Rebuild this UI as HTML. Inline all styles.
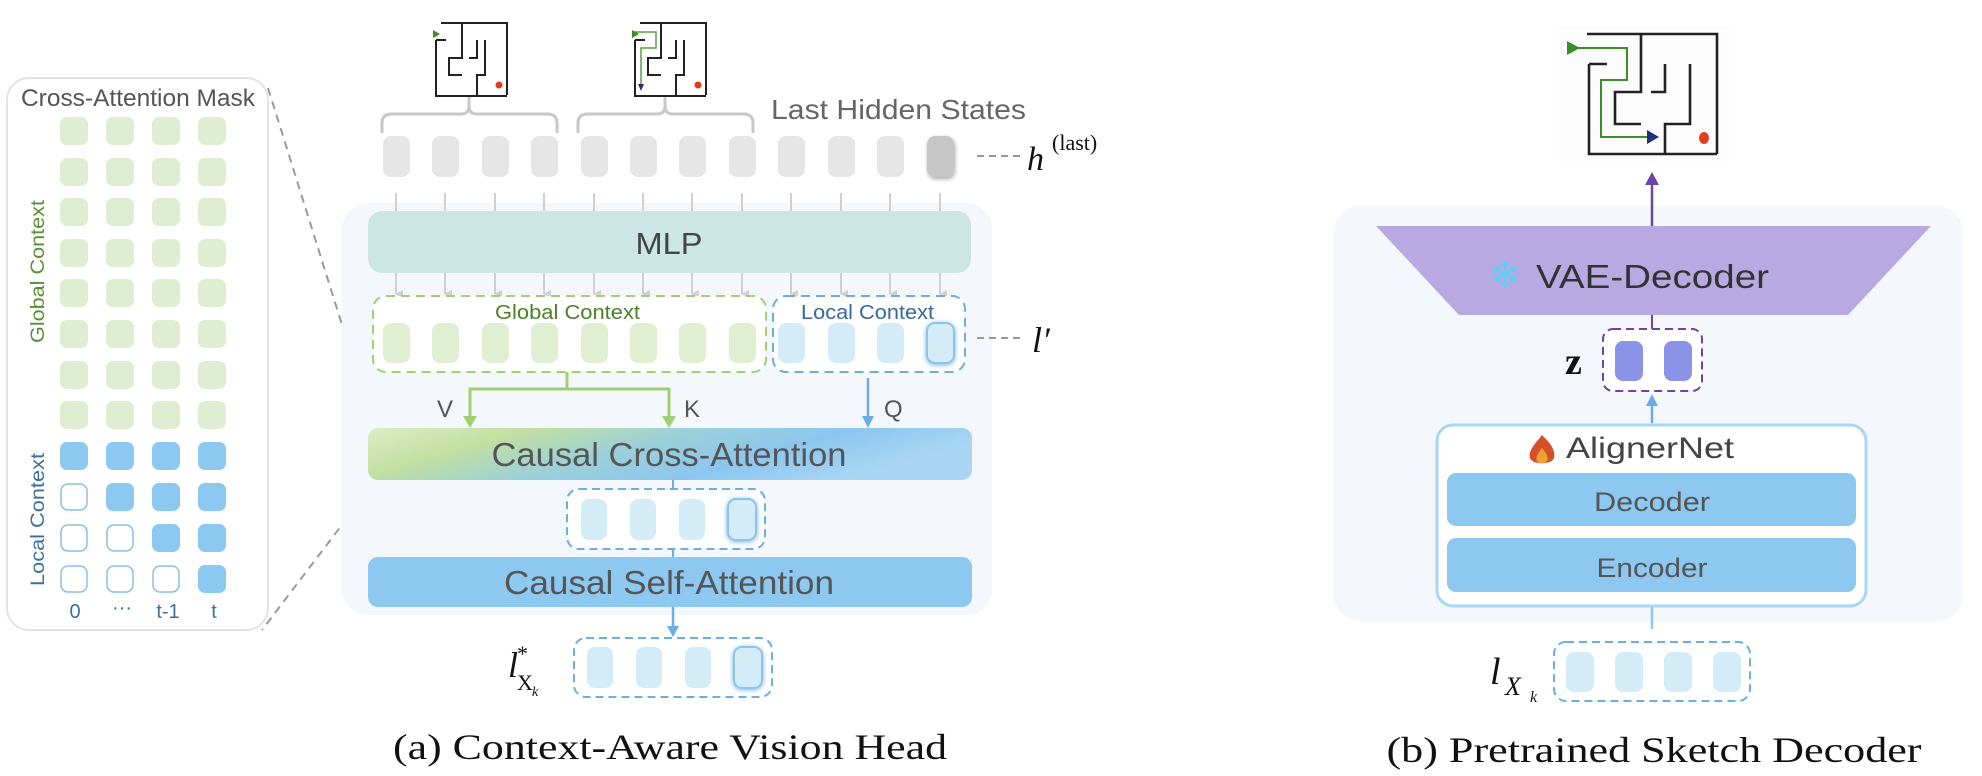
<!DOCTYPE html>
<html><head><meta charset="utf-8"><style>
html,body{margin:0;padding:0;background:#fff;}
svg{display:block;}
</style></head><body>
<svg width="1982" height="776" viewBox="0 0 1982 776" xmlns="http://www.w3.org/2000/svg">
<defs>
<linearGradient id="cg" x1="0" y1="0" x2="1" y2="0.3">
<stop offset="0" stop-color="#dcedc6"/><stop offset="0.25" stop-color="#c2e0a0"/><stop offset="0.5" stop-color="#9bd0d8"/><stop offset="0.75" stop-color="#8cc6ef"/><stop offset="1" stop-color="#a9d6f5"/>
</linearGradient>
<marker id="ag" markerWidth="8" markerHeight="8" refX="4" refY="7" orient="auto" markerUnits="userSpaceOnUse"><path d="M0,0 L8,0 L4,8 z" fill="#d0d0d0"/></marker>
<filter id="sh" x="-50%" y="-50%" width="200%" height="200%"><feDropShadow dx="1" dy="2" stdDeviation="2" flood-color="#000" flood-opacity="0.35"/></filter>
<filter id="glow" x="-50%" y="-50%" width="200%" height="200%"><feDropShadow dx="0" dy="1" stdDeviation="2.5" flood-color="#3f8fd0" flood-opacity="0.7"/></filter>
</defs>

<rect x="7" y="78" width="261" height="552" rx="22" fill="#fff" stroke="#e4e4e4" stroke-width="2"/>
<text x="21" y="106" font-family="Liberation Sans, sans-serif" font-size="24" fill="#555" textLength="234" lengthAdjust="spacingAndGlyphs">Cross-Attention Mask</text>
<g>
<g fill="#dfeed2">
<rect x="60" y="117" width="28" height="28" rx="7"/><rect x="106" y="117" width="28" height="28" rx="7"/><rect x="152" y="117" width="28" height="28" rx="7"/><rect x="198" y="117" width="28" height="28" rx="7"/>
<rect x="60" y="158" width="28" height="28" rx="7"/><rect x="106" y="158" width="28" height="28" rx="7"/><rect x="152" y="158" width="28" height="28" rx="7"/><rect x="198" y="158" width="28" height="28" rx="7"/>
<rect x="60" y="198" width="28" height="28" rx="7"/><rect x="106" y="198" width="28" height="28" rx="7"/><rect x="152" y="198" width="28" height="28" rx="7"/><rect x="198" y="198" width="28" height="28" rx="7"/>
<rect x="60" y="239" width="28" height="28" rx="7"/><rect x="106" y="239" width="28" height="28" rx="7"/><rect x="152" y="239" width="28" height="28" rx="7"/><rect x="198" y="239" width="28" height="28" rx="7"/>
<rect x="60" y="279" width="28" height="28" rx="7"/><rect x="106" y="279" width="28" height="28" rx="7"/><rect x="152" y="279" width="28" height="28" rx="7"/><rect x="198" y="279" width="28" height="28" rx="7"/>
<rect x="60" y="320" width="28" height="28" rx="7"/><rect x="106" y="320" width="28" height="28" rx="7"/><rect x="152" y="320" width="28" height="28" rx="7"/><rect x="198" y="320" width="28" height="28" rx="7"/>
<rect x="60" y="361" width="28" height="28" rx="7"/><rect x="106" y="361" width="28" height="28" rx="7"/><rect x="152" y="361" width="28" height="28" rx="7"/><rect x="198" y="361" width="28" height="28" rx="7"/>
<rect x="60" y="401" width="28" height="28" rx="7"/><rect x="106" y="401" width="28" height="28" rx="7"/><rect x="152" y="401" width="28" height="28" rx="7"/><rect x="198" y="401" width="28" height="28" rx="7"/>
</g>
<g fill="#8cc8f0">
<rect x="60" y="442" width="28" height="28" rx="7"/><rect x="106" y="442" width="28" height="28" rx="7"/><rect x="152" y="442" width="28" height="28" rx="7"/><rect x="198" y="442" width="28" height="28" rx="7"/>
<rect x="106" y="483" width="28" height="28" rx="7"/><rect x="152" y="483" width="28" height="28" rx="7"/><rect x="198" y="483" width="28" height="28" rx="7"/>
<rect x="152" y="524" width="28" height="28" rx="7"/><rect x="198" y="524" width="28" height="28" rx="7"/>
<rect x="198" y="565" width="28" height="28" rx="7"/>
</g>
<g fill="#fff" stroke="#8cbfe3" stroke-width="1.5">
<rect x="61" y="484" width="26" height="26" rx="7"/>
<rect x="61" y="525" width="26" height="26" rx="7"/><rect x="107" y="525" width="26" height="26" rx="7"/>
<rect x="61" y="566" width="26" height="26" rx="7"/><rect x="107" y="566" width="26" height="26" rx="7"/><rect x="153" y="566" width="26" height="26" rx="7"/>
</g>
</g>
<text transform="translate(44,343) rotate(-90)" font-family="Liberation Sans, sans-serif" font-size="19" fill="#5a8f32" textLength="143" lengthAdjust="spacingAndGlyphs">Global Context</text>
<text transform="translate(44,586) rotate(-90)" font-family="Liberation Sans, sans-serif" font-size="19" fill="#3d6f9c" textLength="133" lengthAdjust="spacingAndGlyphs">Local Context</text>
<g font-family="Liberation Sans, sans-serif" font-size="20" fill="#3d6f9c" text-anchor="middle">
<text x="75" y="618">0</text><text x="122" y="614">···</text><text x="168" y="618">t-1</text><text x="214" y="618">t</text>
</g>

<line x1="268" y1="88" x2="373" y2="424" stroke="#9a9a9a" stroke-width="2" stroke-dasharray="8,6"/>
<line x1="373" y1="484" x2="262" y2="630" stroke="#9a9a9a" stroke-width="2" stroke-dasharray="8,6"/>

<rect x="342" y="203" width="650" height="412" rx="26" fill="#f4f8fd"/>

<g stroke="#222" stroke-width="2" fill="none">
<g transform="translate(433,23)">
<path d="M8,0 H74 V72"/><path d="M3,17 V73 H74"/><path d="M3,17 H13"/><path d="M29,0 V35 H16 V52 H29"/><path d="M52,17 V52 H44 V73"/><path d="M44,17 V35 H36"/><path d="M20,35 H29"/>
<path d="M0,7 L7,11 L0,15 z" fill="#3c8c2a" stroke="none"/>
<circle cx="66" cy="62" r="3.5" fill="#e03a1e" stroke="none"/>
</g>
<g transform="translate(632,23)">
<path d="M8,0 H74 V72"/><path d="M3,17 V73 H74"/><path d="M3,17 H13"/><path d="M29,0 V35 H16 V52 H29"/><path d="M52,17 V52 H44 V73"/><path d="M44,17 V35 H36"/><path d="M20,35 H29"/>
<path d="M2,9 H24 V25 H9 V62" stroke="#5aa04a" stroke-width="1.5"/>
<path d="M0,7 L7,11 L0,15 z" fill="#3c8c2a" stroke="none"/>
<path d="M6,61 L12,61 L9,68 z" fill="#1f2f7a" stroke="none"/>
<circle cx="66" cy="62" r="3.5" fill="#e03a1e" stroke="none"/>
</g>
<g transform="translate(1567,32)" stroke-width="2.6">
<rect x="-8" y="-6" width="170" height="135" fill="#fcfcfc" stroke="none"/>
<path d="M20,2 H150 V122"/><path d="M22,32 H40 M22,32 V122 H150"/><path d="M74,2 V60 H48 V92 H74"/><path d="M123,32 V92 H98 V122"/><path d="M98,32 V60 H84"/>
<path d="M4,16 H60 V48 H34 V105 H80" stroke="#3c8c2a" stroke-width="2"/>
<path d="M0,9 L13,16 L0,23 z" fill="#3c8c2a" stroke="none"/>
<path d="M80,98 L92,105 L80,112 z" fill="#1f2f7a" stroke="none"/>
<ellipse cx="137" cy="106" rx="5" ry="6" fill="#e0401e" stroke="none"/>
</g>
</g>

<g stroke="#c8c8c8" stroke-width="3" fill="none">
<path d="M382,133 V123 Q382,114 392,114 H461 Q469,114 469,106 V97 M469,97 V106 Q469,114 477,114 H547 Q557,114 557,123 V133"/>
<path d="M578,133 V123 Q578,114 588,114 H657 Q665,114 665,106 V97 M665,97 V106 Q665,114 673,114 H743 Q753,114 753,123 V133"/>
</g>
<text x="771" y="119" font-family="Liberation Sans, sans-serif" font-size="28" fill="#666" textLength="255" lengthAdjust="spacingAndGlyphs">Last Hidden States</text>

<g fill="#e6e6e6">
<rect x="383" y="136" width="27" height="41" rx="8"/><rect x="432" y="136" width="27" height="41" rx="8"/><rect x="482" y="136" width="27" height="41" rx="8"/><rect x="531" y="136" width="27" height="41" rx="8"/>
<rect x="581" y="136" width="27" height="41" rx="8"/><rect x="630" y="136" width="27" height="41" rx="8"/><rect x="679" y="136" width="27" height="41" rx="8"/><rect x="729" y="136" width="27" height="41" rx="8"/>
<rect x="778" y="136" width="27" height="41" rx="8"/><rect x="828" y="136" width="27" height="41" rx="8"/><rect x="877" y="136" width="27" height="41" rx="8"/>
</g>
<rect x="927" y="136" width="27" height="41" rx="8" fill="#c6c6c6" filter="url(#sh)"/>
<line x1="977" y1="156" x2="1022" y2="156" stroke="#999" stroke-width="2" stroke-dasharray="7,5"/>
<text x="1027" y="170" font-family="Liberation Serif, serif" font-style="italic" font-size="34" fill="#111">h</text>
<text x="1052" y="150" font-family="Liberation Serif, serif" font-size="22" fill="#111">(last)</text>

<g stroke="#d0d0d0" stroke-width="2">
<line x1="396" y1="193" x2="396" y2="211"/><line x1="445" y1="193" x2="445" y2="211"/><line x1="495" y1="193" x2="495" y2="211"/><line x1="544" y1="193" x2="544" y2="211"/>
<line x1="594" y1="193" x2="594" y2="211"/><line x1="643" y1="193" x2="643" y2="211"/><line x1="692" y1="193" x2="692" y2="211"/><line x1="742" y1="193" x2="742" y2="211"/>
<line x1="791" y1="193" x2="791" y2="211"/><line x1="841" y1="193" x2="841" y2="211"/><line x1="890" y1="193" x2="890" y2="211"/><line x1="940" y1="193" x2="940" y2="211"/>
</g>
<g stroke="#d0d0d0" stroke-width="2" marker-end="url(#ag)">
<line x1="396" y1="273" x2="396" y2="294"/><line x1="445" y1="273" x2="445" y2="294"/><line x1="495" y1="273" x2="495" y2="294"/><line x1="544" y1="273" x2="544" y2="294"/>
<line x1="594" y1="273" x2="594" y2="294"/><line x1="643" y1="273" x2="643" y2="294"/><line x1="692" y1="273" x2="692" y2="294"/><line x1="742" y1="273" x2="742" y2="294"/>
<line x1="791" y1="273" x2="791" y2="294"/><line x1="841" y1="273" x2="841" y2="294"/><line x1="890" y1="273" x2="890" y2="294"/><line x1="940" y1="273" x2="940" y2="294"/>
</g>

<rect x="368" y="211" width="603" height="62" rx="14" fill="#cce6e6"/>
<text x="669" y="254" text-anchor="middle" font-family="Liberation Sans, sans-serif" font-size="31" fill="#444" textLength="67" lengthAdjust="spacingAndGlyphs">MLP</text>

<rect x="373" y="296" width="393" height="76" rx="13" fill="#fff" stroke="#9fd071" stroke-width="2" stroke-dasharray="9,6"/>
<rect x="773" y="296" width="192" height="76" rx="13" fill="#fff" stroke="#6aaee3" stroke-width="2" stroke-dasharray="9,6"/>
<text x="495" y="319" font-family="Liberation Sans, sans-serif" font-size="20" fill="#4d7f28" textLength="145" lengthAdjust="spacingAndGlyphs">Global Context</text>
<text x="801" y="319" font-family="Liberation Sans, sans-serif" font-size="20" fill="#36699a" textLength="133" lengthAdjust="spacingAndGlyphs">Local Context</text>
<g fill="#e0efd2">
<rect x="383" y="323" width="27" height="40" rx="8"/><rect x="432" y="323" width="27" height="40" rx="8"/><rect x="482" y="323" width="27" height="40" rx="8"/><rect x="531" y="323" width="27" height="40" rx="8"/>
<rect x="581" y="323" width="27" height="40" rx="8"/><rect x="630" y="323" width="27" height="40" rx="8"/><rect x="679" y="323" width="27" height="40" rx="8"/><rect x="729" y="323" width="27" height="40" rx="8"/>
</g>
<g fill="#d4ebf8">
<rect x="778" y="323" width="27" height="40" rx="8"/><rect x="828" y="323" width="27" height="40" rx="8"/><rect x="877" y="323" width="27" height="40" rx="8"/>
</g>
<rect x="927" y="323" width="27" height="40" rx="8" fill="#d4ebf8" stroke="#8fc4ea" stroke-width="2" filter="url(#glow)"/>
<line x1="977" y1="338" x2="1022" y2="338" stroke="#999" stroke-width="2" stroke-dasharray="7,5"/>
<text x="1032" y="352" font-family="Liberation Serif, serif" font-style="italic" font-size="36" fill="#111">l′</text>

<g stroke="#9fd071" stroke-width="3" fill="none">
<path d="M567,372 V389 M470,418 V389 H669 V418"/>
</g>
<path d="M463,416 L477,416 L470,428 z" fill="#9fd071"/>
<path d="M662,416 L676,416 L669,428 z" fill="#9fd071"/>
<line x1="868" y1="378" x2="868" y2="418" stroke="#6aaee3" stroke-width="2.5"/>
<path d="M862,416 L874,416 L868,428 z" fill="#6aaee3"/>
<g font-family="Liberation Sans, sans-serif" font-size="24" fill="#555">
<text x="437" y="417">V</text><text x="684" y="417">K</text><text x="884" y="417">Q</text>
</g>

<rect x="368" y="428" width="604" height="52" rx="10" fill="url(#cg)"/>
<text x="669" y="466" text-anchor="middle" font-family="Liberation Sans, sans-serif" font-size="33" fill="#555" textLength="355" lengthAdjust="spacingAndGlyphs">Causal Cross-Attention</text>
<line x1="673" y1="480" x2="673" y2="489" stroke="#6aaee3" stroke-width="2"/>
<rect x="567" y="489" width="198" height="60" rx="12" fill="#fff" stroke="#6aaee3" stroke-width="2" stroke-dasharray="8,5"/>
<g fill="#d4ebf8">
<rect x="581" y="499" width="26" height="41" rx="8"/><rect x="630" y="499" width="26" height="41" rx="8"/><rect x="679" y="499" width="26" height="41" rx="8"/>
</g>
<rect x="728" y="499" width="28" height="41" rx="8" fill="#d4ebf8" stroke="#8fc4ea" stroke-width="2" filter="url(#glow)"/>
<line x1="673" y1="549" x2="673" y2="557" stroke="#6aaee3" stroke-width="2"/>

<rect x="368" y="557" width="604" height="50" rx="10" fill="#8cc8f0"/>
<text x="669" y="594" text-anchor="middle" font-family="Liberation Sans, sans-serif" font-size="33" fill="#555" textLength="330" lengthAdjust="spacingAndGlyphs">Causal Self-Attention</text>
<line x1="673" y1="607" x2="673" y2="628" stroke="#6aaee3" stroke-width="2.5"/>
<path d="M667,626 L679,626 L673,637 z" fill="#6aaee3"/>
<rect x="574" y="638" width="198" height="59" rx="12" fill="#fff" stroke="#6aaee3" stroke-width="2" stroke-dasharray="8,5"/>
<g fill="#d4ebf8">
<rect x="587" y="647" width="26" height="41" rx="8"/><rect x="636" y="647" width="26" height="41" rx="8"/><rect x="685" y="647" width="26" height="41" rx="8"/>
</g>
<rect x="734" y="647" width="28" height="41" rx="8" fill="#d4ebf8" stroke="#8fc4ea" stroke-width="2" filter="url(#glow)"/>
<text x="508" y="677" font-family="Liberation Serif, serif" font-style="italic" font-size="36" fill="#111">l</text>
<text x="517" y="661" font-family="Liberation Serif, serif" font-size="22" fill="#111">*</text>
<text x="517" y="690" font-family="Liberation Serif, serif" font-size="22" fill="#111">X</text>
<text x="532" y="696" font-family="Liberation Serif, serif" font-style="italic" font-size="14" fill="#111">k</text>

<text x="670" y="759" text-anchor="middle" font-family="Liberation Serif, serif" font-size="36" fill="#111" textLength="554" lengthAdjust="spacingAndGlyphs">(a) Context-Aware Vision Head</text>

<rect x="1334" y="206" width="629" height="415" rx="26" fill="#f4f8fd"/>
<line x1="1652" y1="226" x2="1652" y2="183" stroke="#6a45a8" stroke-width="2.5"/>
<path d="M1645,185 L1659,185 L1652,172 z" fill="#6a45a8"/>
<path d="M1376,226 H1931 L1848,315 H1459 z" fill="#b8a9e3"/>
<text x="1505" y="288" text-anchor="middle" font-family="DejaVu Sans, sans-serif" font-size="38" fill="#5cd0f0">❄</text>
<text x="1536" y="288" font-family="Liberation Sans, sans-serif" font-size="33" fill="#333" textLength="233" lengthAdjust="spacingAndGlyphs">VAE-Decoder</text>
<line x1="1652" y1="315" x2="1652" y2="329" stroke="#6a45a8" stroke-width="2"/>
<rect x="1603" y="329" width="99" height="62" rx="10" fill="#fff" stroke="#6a45a8" stroke-width="2" stroke-dasharray="8,5"/>
<rect x="1615" y="341" width="28" height="40" rx="8" fill="#8b93e8"/>
<rect x="1664" y="341" width="28" height="40" rx="8" fill="#8b93e8"/>
<text x="1565" y="374" font-family="Liberation Serif, serif" font-weight="bold" font-size="38" fill="#111">z</text>
<line x1="1652" y1="423" x2="1652" y2="404" stroke="#6aaee3" stroke-width="2.5"/>
<path d="M1646,406 L1658,406 L1652,394 z" fill="#6aaee3"/>
<rect x="1437" y="425" width="429" height="181" rx="16" fill="#fff" stroke="#a8d6f5" stroke-width="3"/>
<path d="M1542,435 C1550,443 1556,450 1554,458 C1552,465 1532,465 1530,458 C1528,450 1536,443 1542,435 z" fill="#d4502a"/>
<path d="M1542,448 C1547,454 1549,458 1547,461 C1545,464 1539,464 1537,461 C1535,458 1538,453 1542,448 z" fill="#f0a030"/>
<text x="1566" y="458" font-family="Liberation Sans, sans-serif" font-size="30" fill="#444" textLength="168" lengthAdjust="spacingAndGlyphs">AlignerNet</text>
<rect x="1447" y="473" width="409" height="53" rx="9" fill="#8cc8f0"/>
<text x="1652" y="511" text-anchor="middle" font-family="Liberation Sans, sans-serif" font-size="27" fill="#555" textLength="116" lengthAdjust="spacingAndGlyphs">Decoder</text>
<rect x="1447" y="538" width="409" height="54" rx="9" fill="#8cc8f0"/>
<text x="1652" y="577" text-anchor="middle" font-family="Liberation Sans, sans-serif" font-size="27" fill="#555" textLength="111" lengthAdjust="spacingAndGlyphs">Encoder</text>
<line x1="1652" y1="607" x2="1652" y2="629" stroke="#8cc8f0" stroke-width="2.5"/>
<rect x="1554" y="642" width="196" height="59" rx="12" fill="#fff" stroke="#6aaee3" stroke-width="2" stroke-dasharray="8,5"/>
<g fill="#d4ebf8">
<rect x="1566" y="652" width="28" height="40" rx="8"/><rect x="1615" y="652" width="28" height="40" rx="8"/><rect x="1664" y="652" width="28" height="40" rx="8"/><rect x="1713" y="652" width="28" height="40" rx="8"/>
</g>
<text x="1490" y="684" font-family="Liberation Serif, serif" font-style="italic" font-size="38" fill="#111">l</text>
<text x="1505" y="695" font-family="Liberation Serif, serif" font-style="italic" font-size="26" fill="#111">X</text>
<text x="1530" y="702" font-family="Liberation Serif, serif" font-style="italic" font-size="16" fill="#111">k</text>

<text x="1654" y="762" text-anchor="middle" font-family="Liberation Serif, serif" font-size="36" fill="#111" textLength="535" lengthAdjust="spacingAndGlyphs">(b) Pretrained Sketch Decoder</text>
</svg>
</body></html>
